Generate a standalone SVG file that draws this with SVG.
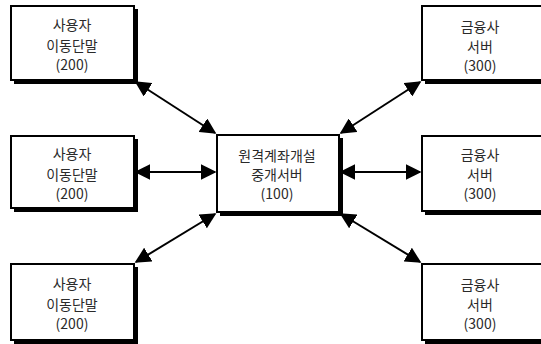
<svg xmlns="http://www.w3.org/2000/svg" width="541" height="344" viewBox="0 0 541 344">
<defs>
<style>
.sh{fill:#000}
.bx{fill:#fff;stroke:#000;stroke-width:2}
.t{font-family:"Noto Sans CJK KR","Liberation Sans",sans-serif;font-size:14px;fill:#2a2a2a;text-anchor:middle}
.c{stroke:#000;stroke-width:2;fill:none}
</style>
<marker id="a2" viewBox="0 0 10 10" refX="9" refY="5" markerWidth="8" markerHeight="8" orient="auto-start-reverse">
<path d="M0,0L10,5L0,10z" fill="#000"/>
</marker>
</defs>
<rect width="541" height="344" fill="#fff"/>
<g id="connectors">
<line class="c" x1="136" y1="82" x2="215" y2="133" marker-start="url(#a2)" marker-end="url(#a2)"/>
<line class="c" x1="136" y1="172" x2="215" y2="172" marker-start="url(#a2)" marker-end="url(#a2)"/>
<line class="c" x1="136" y1="262" x2="215" y2="214" marker-start="url(#a2)" marker-end="url(#a2)"/>
<line class="c" x1="341" y1="133" x2="420" y2="82" marker-start="url(#a2)" marker-end="url(#a2)"/>
<line class="c" x1="341" y1="172" x2="420" y2="172" marker-start="url(#a2)" marker-end="url(#a2)"/>
<line class="c" x1="341" y1="214" x2="420" y2="262" marker-start="url(#a2)" marker-end="url(#a2)"/>
</g>
<g id="user1">
<rect class="sh" x="14" y="9" width="124" height="75"/>
<rect class="bx" x="11" y="6" width="123" height="74"/>
<text class="t"><tspan x="72" y="30">사용자</tspan><tspan x="72" y="51">이동단말</tspan><tspan x="72" y="70">(200)</tspan></text>
</g>
<g id="user2">
<rect class="sh" x="14" y="139" width="124" height="73"/>
<rect class="bx" x="11" y="136" width="123" height="72"/>
<text class="t"><tspan x="72" y="159">사용자</tspan><tspan x="72" y="180">이동단말</tspan><tspan x="72" y="199">(200)</tspan></text>
</g>
<g id="user3">
<rect class="sh" x="14" y="267" width="124" height="77"/>
<rect class="bx" x="11" y="264" width="123" height="76"/>
<text class="t"><tspan x="72" y="289">사용자</tspan><tspan x="72" y="310">이동단말</tspan><tspan x="72" y="329">(200)</tspan></text>
</g>
<g id="center">
<rect class="sh" x="220" y="138" width="123" height="78"/>
<rect class="bx" x="217" y="135" width="122" height="77"/>
<text class="t"><tspan x="277" y="161">원격계좌개설</tspan><tspan x="277" y="180">중개서버</tspan><tspan x="277" y="199">(100)</tspan></text>
</g>
<g id="bank1">
<rect class="sh" x="425" y="9" width="130" height="75"/>
<rect class="bx" x="422" y="6" width="130" height="74"/>
<text class="t"><tspan x="480" y="32">금융사</tspan><tspan x="480" y="52">서버</tspan><tspan x="480" y="71">(300)</tspan></text>
</g>
<g id="bank2">
<rect class="sh" x="425" y="139" width="130" height="76"/>
<rect class="bx" x="422" y="136" width="130" height="75"/>
<text class="t"><tspan x="480" y="160">금융사</tspan><tspan x="480" y="180">서버</tspan><tspan x="480" y="199">(300)</tspan></text>
</g>
<g id="bank3">
<rect class="sh" x="425" y="267" width="130" height="77"/>
<rect class="bx" x="422" y="264" width="130" height="76"/>
<text class="t"><tspan x="480" y="290">금융사</tspan><tspan x="480" y="310">서버</tspan><tspan x="480" y="329">(300)</tspan></text>
</g>
</svg>
